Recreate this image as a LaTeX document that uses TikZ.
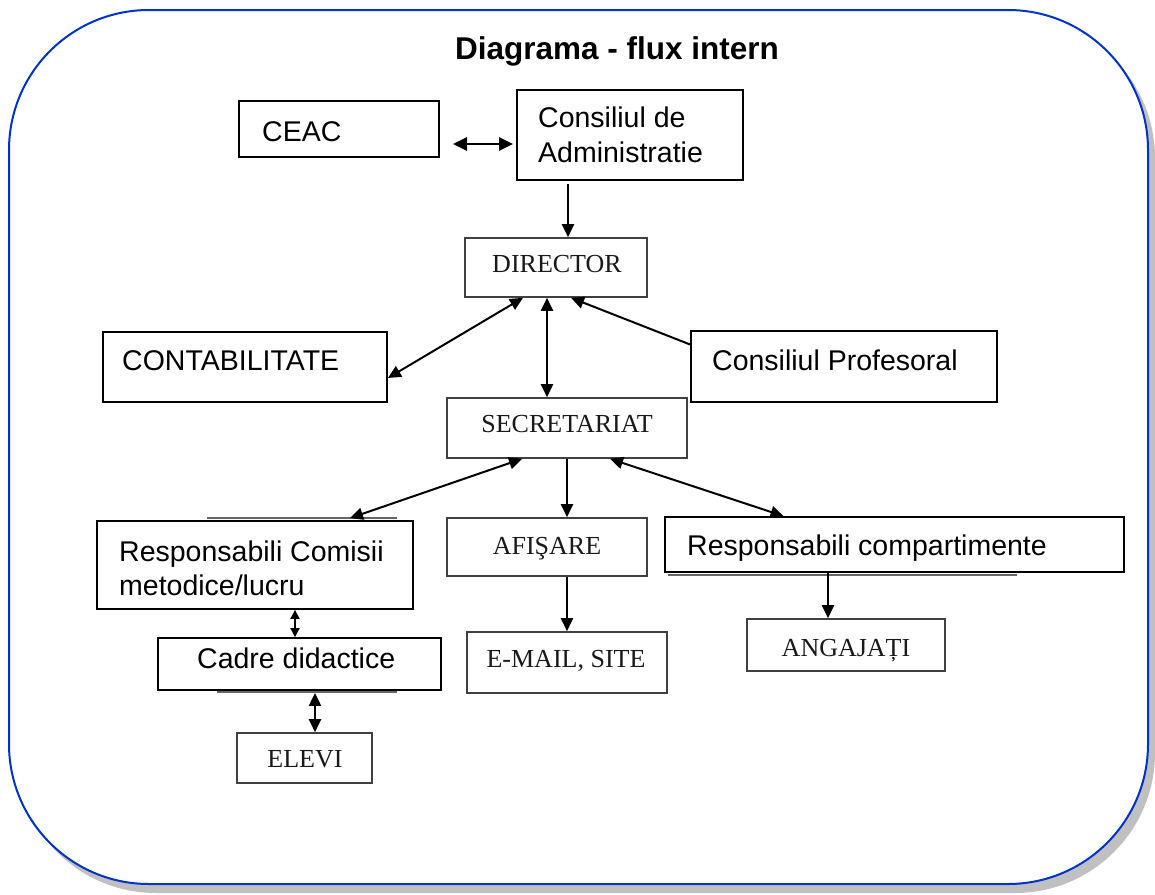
\documentclass[tikz,border=0pt]{standalone}
\usepackage{fontspec}
\setmainfont{Liberation Sans}
\newfontfamily\serifTNR{Liberation Serif}
\usetikzlibrary{arrows.meta,fit,calc}
\definecolor{frameblue}{RGB}{0,51,204}
\definecolor{shadowgray}{RGB}{192,192,192}
\begin{document}
\begin{tikzpicture}[x=1pt,y=-1pt,
  sbox/.style={draw=black,line width=1.8pt,inner sep=0pt},
  tbox/.style={draw=black!75,line width=1.6pt,inner sep=0pt},
  atxt/.style={font=\fontsize{28.5}{34}\selectfont,anchor=base west,inner sep=0pt},
  ttxt/.style={font=\serifTNR\fontsize{26}{30}\selectfont,anchor=base,inner sep=0pt,text=black!90},
  arr/.style={line width=2pt,-{Triangle[length=13pt,width=12pt]}},
  arrb/.style={line width=2pt,{Triangle[length=13pt,width=12pt]}-{Triangle[length=13pt,width=12pt]}},
  arrbs/.style={line width=1.8pt,{Triangle[length=9pt,width=9pt]}-{Triangle[length=9pt,width=9pt]}},
  arrbig/.style={line width=2.8pt,{Triangle[length=14pt,width=13pt]}-{Triangle[length=14pt,width=13pt]}},
  ghost/.style={draw=black!60,line width=1.6pt}]
\useasboundingbox (0,0) rectangle (1155,894);
% frame with shadow
\fill[shadowgray,rounded corners=140pt] (16,18) rectangle (1155,893);
\filldraw[fill=white,draw=frameblue,line width=2pt,rounded corners=140pt] (9,10) rectangle (1148,884);
% title
\node[font=\bfseries\fontsize{31.5}{36}\selectfont,anchor=base,inner sep=0pt] (title) at (617,59) {Diagrama - flux intern};
% boxes
\node[sbox,fit={(239,101)(439,157)}] (ceac) {};
\node[atxt] (ceact) at (262,141) {CEAC};
\node[sbox,fit={(517,90)(743,180)}] (cda) {};
\node[atxt] (cdat1) at (538,127) {Consiliul de};
\node[atxt] (cdat2) at (538,162) {Administratie};
\node[tbox,fit={(465,238)(647,297)}] (dir) {};
\node[ttxt] (dirt) at (557,272) {DIRECTOR};
\node[sbox,fit={(103,332)(387,402)}] (cont) {};
\node[atxt] (contt) at (122,370) {CONTABILITATE};
\node[sbox,fit={(691,331)(997,402)}] (prof) {};
\node[atxt] (proft) at (712,370) {Consiliul Profesoral};
\node[tbox,fit={(447,398)(687,458)}] (secr) {};
\node[ttxt] (secrt) at (567,432) {SECRETARIAT};
\draw[ghost] (207,518) -- (397,518);
\node[sbox,fit={(97,521)(413,609)}] (rcom) {};
\node[atxt] (rcomt1) at (119,561) {Responsabili Comisii};
\node[atxt] (rcomt2) at (119,595) {metodice/lucru};
\node[tbox,fit={(447,518)(647,576)}] (afis) {};
\node[ttxt] (afist) at (547,554) {AFIŞARE};
\draw[ghost] (668,575) -- (1017,575);
\node[sbox,fit={(665,517)(1124,572)}] (rcomp) {};
\node[atxt] (rcompt) at (687,555) {Responsabili compartimente};
\draw[ghost] (217,692) -- (397,692);
\node[sbox,fit={(158,638)(441,690)}] (cadre) {};
\node[atxt] (cadret) at (197,668) {Cadre didactice};
\node[tbox,fit={(467,632)(667,693)}] (email) {};
\node[ttxt] (emailt) at (566,667) {E-MAIL, SITE};
\node[tbox,fit={(747,619)(945,671)}] (ang) {};
\node[ttxt] (angt) at (846,656) {ANGAJAȚI};
\node[tbox,fit={(237,733)(372,783)}] (elevi) {};
\node[ttxt] (elevit) at (305,767) {ELEVI};
% helper coordinates
\coordinate (h1) at (453,144);
\coordinate (v1) at (568,0);
\coordinate (v2) at (547,0);
\coordinate (v3) at (567,0);
\coordinate (v4) at (295,0);
\coordinate (v5) at (315,0);
\coordinate (v6) at (828,0);
% connectors
\draw[arrbig,shorten >=3pt] (h1) -- (cda.west |- h1);
\draw[arr] ([yshift=-3pt]cda.south -| v1) -- (dir.north -| v1);
\draw[arrb] ([yshift=-11pt]cont.east) -- ([xshift=-33pt]dir.south);
\draw[arrb] (dir.south -| v2) -- (secr.north -| v2);
\draw[arr] ([yshift=22pt]prof.west) -- ([xshift=15pt]dir.south);
\draw[arrb] ([xshift=-45pt]secr.south) -- ([xshift=95pt,yshift=2pt]rcom.north);
\draw[arr] (secr.south -| v3) -- (afis.north -| v3);
\draw[arrb] ([xshift=43pt]secr.south) -- ([xshift=-111pt]rcomp.north);
\draw[arr] (afis.south -| v3) -- (email.north -| v3);
\draw[arrbs] (rcom.south -| v4) -- (cadre.north -| v4);
\draw[arrb] ([yshift=-2pt]cadre.south -| v5) -- (elevi.north -| v5);
\draw[arr] (rcomp.south -| v6) -- (ang.north -| v6);
\end{tikzpicture}
\end{document}
